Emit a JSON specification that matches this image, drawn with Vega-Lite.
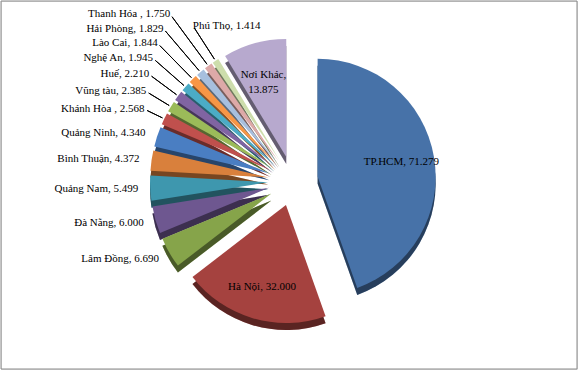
{
  "$schema": "https://vega.github.io/schema/vega-lite/v6.json",
  "width": 576,
  "height": 368,
  "autosize": {"type": "none"},
  "padding": {"left": 1, "top": 1, "right": 2, "bottom": 1},
  "background": "white",
  "data": {
    "values": [
      {"name": "TP.HCM", "value": 71.279, "label": "TP.HCM, 71.279"},
      {"name": "Hà Nội", "value": 32.0, "label": "Hà Nội, 32.000"},
      {"name": "Lâm Đồng", "value": 6.69, "label": "Lâm Đồng, 6.690"},
      {"name": "Đà Nẵng", "value": 6.0, "label": "Đà Nẵng, 6.000"},
      {"name": "Quảng Nam", "value": 5.499, "label": "Quảng Nam, 5.499"},
      {"name": "Bình Thuận", "value": 4.372, "label": "Bình Thuận, 4.372"},
      {"name": "Quảng Ninh", "value": 4.34, "label": "Quảng Ninh, 4.340"},
      {"name": "Khánh Hòa", "value": 2.568, "label": "Khánh Hòa , 2.568"},
      {"name": "Vũng tàu", "value": 2.385, "label": "Vũng tàu, 2.385"},
      {"name": "Huế", "value": 2.21, "label": "Huế, 2.210"},
      {"name": "Nghệ An", "value": 1.945, "label": "Nghệ An, 1.945"},
      {"name": "Lào Cai", "value": 1.844, "label": "Lào Cai, 1.844"},
      {"name": "Hải Phòng", "value": 1.829, "label": "Hải Phòng, 1.829"},
      {"name": "Thanh Hóa", "value": 1.75, "label": "Thanh Hóa , 1.750"},
      {"name": "Phú Thọ", "value": 1.414, "label": "Phú Thọ, 1.414"},
      {"name": "Nơi Khác", "value": 13.875, "label": ["Nơi Khác,", "13.875"]}
    ]
  },
  "layer": [
    {
      "data": {"values": [{"frame": 1}]},
      "mark": {"type": "rect", "filled": false, "color": "#8a8a8a", "strokeWidth": 1},
      "encoding": {
        "x": {"value": 0},
        "x2": {"value": "width"},
        "y": {"value": 0},
        "y2": {"value": "height"}
      }
    },
    {
      "transform": [
        {"window": [{"op": "row_number", "as": "idx"}]},
        {"joinaggregate": [{"op": "sum", "field": "value", "as": "total"}]}
      ],
      "encoding": {
        "theta": {"field": "value", "type": "quantitative", "stack": true},
        "order": {"field": "idx", "type": "quantitative"}
      },
      "layer": [
        {
          "mark": {
            "type": "arc",
            "radius": 118,
            "xOffset": {"expr": "4 + 25*sin((datum.value_start + datum.value_end)*PI/datum.total)"},
            "yOffset": {"expr": "3 - 25*cos((datum.value_start + datum.value_end)*PI/datum.total)"}
          },
          "encoding": {
            "color": {
              "field": "name", "type": "nominal", "legend": null,
              "scale": {
                "domain": ["TP.HCM", "Hà Nội", "Lâm Đồng", "Đà Nẵng", "Quảng Nam", "Bình Thuận", "Quảng Ninh", "Khánh Hòa", "Vũng tàu", "Huế", "Nghệ An", "Lào Cai", "Hải Phòng", "Thanh Hóa", "Phú Thọ", "Nơi Khác"],
                "range": ["#4772A8", "#A5423F", "#86A44A", "#6E5790", "#3E97AE", "#D9803C", "#4A7EC2", "#C0504D", "#9BBB59", "#8064A2", "#4BACC6", "#F79646", "#A7BFDE", "#DDA9A8", "#CDDDAC", "#B7A9CE"]
              }
            }
          }
        },
        {
          "mark": {
            "type": "arc",
            "radius": 118,
            "opacity": 0.45,
            "xOffset": {"expr": "4 + 25*sin((datum.value_start + datum.value_end)*PI/datum.total)"},
            "yOffset": {"expr": "3 - 25*cos((datum.value_start + datum.value_end)*PI/datum.total)"}
          },
          "encoding": {"color": {"value": "black"}}
        },
        {
          "mark": {
            "type": "arc",
            "radius": 118,
            "xOffset": {"expr": "4 + 25*sin((datum.value_start + datum.value_end)*PI/datum.total)"},
            "yOffset": {"expr": "-4 - 25*cos((datum.value_start + datum.value_end)*PI/datum.total)"}
          },
          "encoding": {
            "color": {"field": "name", "type": "nominal", "legend": null}
          }
        },
        {
          "mark": {
            "type": "arc",
            "filled": false,
            "strokeWidth": 1,
            "padAngle": 3.14,
            "radius": {"expr": "(datum.idx == 15 ? 160 : 140 + (datum.idx - 8)*7) - 3"},
            "radius2": 120,
            "xOffset": {"expr": "4 + 25*sin((datum.value_start + datum.value_end)*PI/datum.total)"},
            "yOffset": {"expr": "-4 - 25*cos((datum.value_start + datum.value_end)*PI/datum.total)"}
          },
          "encoding": {
            "color": {"value": "black"},
            "opacity": {"condition": {"test": "datum.idx >= 8 && datum.idx <= 15", "value": 1}, "value": 0}
          }
        },
        {
          "mark": {
            "type": "text",
            "font": "Liberation Serif",
            "fontSize": 11,
            "lineHeight": 15,
            "baseline": "middle",
            "radius": {"expr": "datum.value > 10 ? 85 : datum.idx == 15 ? 160 : datum.idx >= 8 ? 140 + (datum.idx - 8)*7 : 130"},
            "align": {"expr": "datum.value > 10 ? 'center' : datum.idx == 15 ? 'left' : 'right'"},
            "xOffset": {"expr": "4 + 25*sin((datum.value_start + datum.value_end)*PI/datum.total)"},
            "yOffset": {"expr": "-4 - 25*cos((datum.value_start + datum.value_end)*PI/datum.total)"}
          },
          "encoding": {
            "text": {"field": "label", "type": "nominal"},
            "color": {"value": "black"}
          }
        }
      ]
    }
  ]
}
